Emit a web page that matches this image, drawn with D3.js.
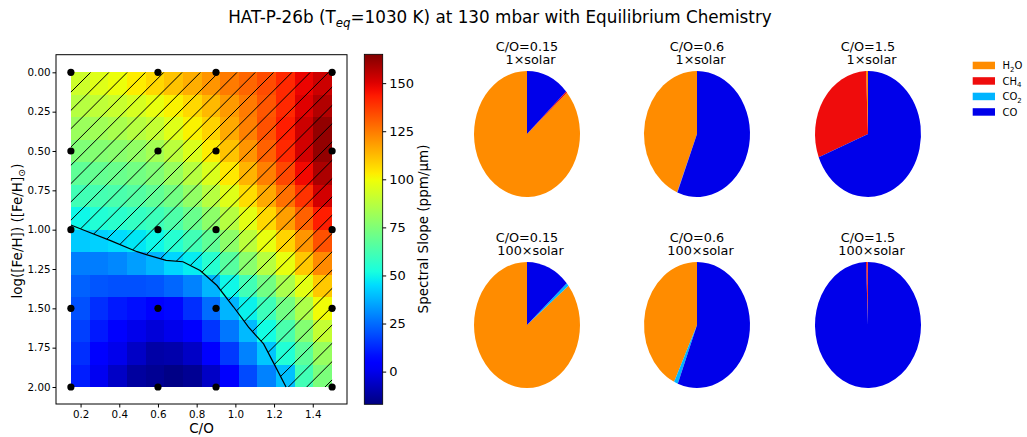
<!DOCTYPE html>
<html><head><meta charset="utf-8">
<script src="https://cdn.jsdelivr.net/npm/d3@7"></script>
<style>body{margin:0;background:#fff}svg{display:block;font-family:"DejaVu Sans",sans-serif}</style>
</head><body><svg id="c" width="1027" height="437"></svg>
<script>
// ---- data ----
const coValues = [0.15, 1.5];           // C/O extent of the grid
const fehValues = [0, 2];               // log metallicity extent
const nCols = 14, nRows = 14;
const slopeRows = [
 [92, 96, 99,103,107,111,115,120,125,129,134,141,148,153],
 [87, 89, 91, 94, 98,102,107,113,119,125,132,141,150,157],
 [81, 82, 84, 87, 90, 96,102,108,116,124,133,143,153,162],
 [75, 76, 77, 79, 83, 88, 95,103,111,120,130,141,152,162],
 [68, 69, 70, 72, 75, 80, 87, 95,104,114,124,135,147,158],
 [61, 62, 63, 65, 68, 72, 79, 87, 96,106,116,127,139,152],
 [50, 54, 56, 58, 60, 64, 70, 78, 87, 97,107,118,130,143],
 [42, 43, 45, 47, 50, 55, 61, 68, 78, 88, 98,108,120,133],
 [28, 28, 30, 34, 38, 44, 48, 55, 66, 77, 87, 98,110,122],
 [23, 21, 20, 20, 21, 24, 29, 38, 50, 61, 72, 84, 97,110],
 [20, 14, 10,  8,  4,  7, 14, 25, 38, 49, 60, 72, 85,100],
 [17, 10,  5,  0, -3,  0,  5, 15, 27, 39, 51, 63, 76, 90],
 [14,  5,  0, -6,-11,-10, -6,  3, 16, 29, 41, 54, 67, 80],
 [11,  1, -6,-12,-14,-16,-14, -6,  4, 19, 29, 40, 61, 74]
];
const contourCO  = [0.15,0.231,0.355,0.492,0.544,0.642,0.729,0.818,0.905,0.99,1.068,1.146,1.2,1.262];
const contourFeH = [0.97,1.01,1.07,1.14,1.16,1.195,1.204,1.26,1.355,1.49,1.62,1.726,1.853,2.0];
const modelCO  = [0.15, 0.6, 0.9, 1.5];
const modelFeH = [0, 0.5, 1, 1.5, 2];
const xTicks = [0.2,0.4,0.6,0.8,1.0,1.2,1.4];
const yTicks = [0,0.25,0.5,0.75,1.0,1.25,1.5,1.75,2.0];
const cbTicks = [0,25,50,75,100,125,150];
const cbRange = [-17, 165];

const species = ["H2O","CH4","CO2","CO"];
const speciesColors = ["#ff8c00","#ef0c0c","#00b4ff","#0000ea"];
const pieCO   = ["0.15","0.6","1.5","0.15","0.6","1.5"];
const pieMet  = ["1","1","1","100","100","100"];
const pieH2O = [86.4, 43.8,  0.6, 85.7, 42.9,  0.1];
const pieCH4 = [ 0.4,  0.05,30.4,  0.0,  0.0,  0.5];
const pieCO2 = [ 0.0,  0.1,  0.0,  0.8,  1.2,  0.0];
const pieCOv = [13.2, 56.0, 69.0, 13.5, 55.9, 99.4];

// ---- jet colormap ----
function interp(pts, t){
  for(let i=1;i<pts.length;i++){ if(t<=pts[i][0]){const a=pts[i-1],b=pts[i];return a[1]+(b[1]-a[1])*(t-a[0])/(b[0]-a[0]);} }
  return pts[pts.length-1][1];
}
const R=[[0,0],[0.35,0],[0.66,1],[0.89,1],[1,0.5]];
const G=[[0,0],[0.125,0],[0.375,1],[0.64,1],[0.91,0],[1,0]];
const B=[[0,0.5],[0.11,1],[0.34,1],[0.65,0],[1,0]];
function jet(t){t=Math.max(0,Math.min(1,t));return d3.rgb(255*interp(R,t),255*interp(G,t),255*interp(B,t)).toString();}
const cnorm = d3.scaleLinear().domain(cbRange).range([0,1]).clamp(true);
const color = v => jet(cnorm(v));

const svg = d3.select("#c");

// title
const title = svg.append("text").attr("x",500).attr("y",23).attr("text-anchor","middle").attr("font-size",16.8).attr("fill","#000");
title.append("tspan").text("HAT-P-26b (T");
title.append("tspan").text("eq").attr("font-style","italic").attr("font-size",11.8).attr("dy",4);
title.append("tspan").text("=1030 K) at 130 mbar with Equilibrium Chemistry").attr("dy",-4);

// ---- heatmap ----
const x = d3.scaleLinear().domain([0.073,1.577]).range([56,347]);
const y = d3.scaleLinear().domain([-0.112,2.108]).range([54.7,404]);
const g = svg.append("g");
const cw = (coValues[1]-coValues[0])/nCols, rh=(fehValues[1]-fehValues[0])/nRows;
const cells=[];
slopeRows.forEach((row,r)=>row.forEach((v,c)=>cells.push({r,c,v})));
g.selectAll("rect.cell").data(cells).join("rect").attr("class","cell")
 .attr("x",d=>x(coValues[0]+d.c*cw)).attr("y",d=>y(fehValues[0]+d.r*rh))
 .attr("width",d=>x(coValues[0]+(d.c+1)*cw)-x(coValues[0]+d.c*cw)+0.3)
 .attr("height",d=>y((d.r+1)*rh)-y(d.r*rh)+0.3)
 .attr("fill",d=>color(d.v)).attr("shape-rendering","crispEdges");

// hatched region
const poly = contourCO.map((c,i)=>[x(c),y(contourFeH[i])]);
poly.push([x(coValues[1]),y(fehValues[1])],[x(coValues[1]),y(fehValues[0])],[x(coValues[0]),y(fehValues[0])]);
svg.append("clipPath").attr("id","hclip").append("path").attr("d","M"+poly.map(p=>p.join(",")).join("L")+"Z");
const hg = g.append("g").attr("clip-path","url(#hclip)");
const sp=18.3, off=16.6, y0=y(fehValues[0]), y1=y(fehValues[1]);
const hl=[]; for(let k=0;k<60;k++){hl.push(off+k*sp);}
hg.selectAll("line").data(hl).join("line")
 .attr("x1",c=>c-y1).attr("y1",y1).attr("x2",c=>c-y0).attr("y2",y0)
 .attr("stroke","#000").attr("stroke-width",1);
g.append("path").datum(contourCO.map((c,i)=>[c,contourFeH[i]]))
 .attr("d",d3.line().x(d=>x(d[0])).y(d=>y(d[1]))).attr("fill","none").attr("stroke","#000").attr("stroke-width",1.2);

// model points
const pts=[]; modelCO.forEach(c=>modelFeH.forEach(f=>pts.push([c,f])));
g.selectAll("circle").data(pts).join("circle").attr("cx",d=>x(d[0])).attr("cy",d=>y(d[1])).attr("r",3.6).attr("fill","#000");

// axes
g.append("rect").attr("x",56).attr("y",54.7).attr("width",291).attr("height",349.3).attr("fill","none").attr("stroke","#000").attr("stroke-width",1);
const xa = svg.append("g").attr("transform","translate(0,404)").call(d3.axisBottom(x).tickValues(xTicks).tickFormat(d3.format(".1f")).tickSize(3.5).tickPadding(3));
const ya = svg.append("g").attr("transform","translate(56,0)").call(d3.axisLeft(y).tickValues(yTicks).tickFormat(d3.format(".2f")).tickSize(3.5).tickPadding(2));
[xa,ya].forEach(a=>{a.select(".domain").remove();a.selectAll("text").attr("font-size",10.3).attr("font-family","DejaVu Sans").attr("fill","#000");a.selectAll("line").attr("stroke","#000");});
svg.append("text").attr("x",x(0.825)).attr("y",433).attr("text-anchor","middle").attr("font-size",13.5).text("C/O");
const yl = svg.append("text").attr("transform","translate(22,231) rotate(-90)").attr("text-anchor","middle").attr("font-size",13.5);
yl.append("tspan").text("log([Fe/H]) ([Fe/H]");
yl.append("tspan").text("⊙").attr("font-size",9.5).attr("dy",3);
yl.append("tspan").text(")").attr("dy",-3);

// ---- colorbar ----
const cb = d3.scaleLinear().domain(cbRange).range([404.3,54.3]);
const defs = svg.append("defs");
const grad = defs.append("linearGradient").attr("id","jetg").attr("x1",0).attr("y1",1).attr("x2",0).attr("y2",0);
d3.range(0,1.0001,0.02).forEach(t=>grad.append("stop").attr("offset",t).attr("stop-color",jet(t)));
svg.append("rect").attr("x",364.3).attr("y",54.3).attr("width",18.4).attr("height",350).attr("fill","url(#jetg)").attr("stroke","#000").attr("stroke-width",0.8);
const ca = svg.append("g").attr("transform","translate(382.7,0)").call(d3.axisRight(cb).tickValues(cbTicks).tickSize(3.5).tickPadding(3));
ca.select(".domain").remove();
ca.selectAll("text").attr("font-size",13).attr("font-family","DejaVu Sans").attr("fill","#000");
svg.append("text").attr("transform","translate(428,229) rotate(-90)").attr("text-anchor","middle").attr("font-size",13.5).text("Spectral Slope (ppm/μm)");

// ---- pies ----
const pcx = [527,697,868,527,697,868], pcy=[134,134,134,325,325,325];
const rx=53, ry=63;
const pie = d3.pie().sort(null).startAngle(0).endAngle(-2*Math.PI);
const arc = d3.arc().innerRadius(0).outerRadius(rx);
pieCO.forEach((co,i)=>{
  const vals=[pieH2O[i],pieCH4[i],pieCO2[i],pieCOv[i]];
  const pg = svg.append("g").attr("transform",`translate(${pcx[i]},${pcy[i]}) scale(1,${ry/rx})`);
  pg.selectAll("path").data(pie(vals)).join("path").attr("d",arc).attr("fill",(d,j)=>speciesColors[j]);
  const ty = i<3 ? 51 : 241.5;
  const tt = svg.append("text").attr("y",ty).attr("text-anchor","middle").attr("font-size",12.8);
  tt.append("tspan").attr("x",pcx[i]).text("C/O="+co);
  tt.append("tspan").attr("x",pcx[i]+3.5).attr("dy",13).text(pieMet[i]+"×solar");
});

// legend
const lg = svg.append("g");
species.forEach((s,i)=>{
  const yy = 61.7 + i*15.5;
  lg.append("rect").attr("x",972.7).attr("y",yy).attr("width",22.3).attr("height",7.5).attr("fill",speciesColors[i]);
  const t = lg.append("text").attr("x",1002.5).attr("y",yy+7.5).attr("font-size",10).attr("fill","#000");
  const m = s.match(/^([A-Z]+)(\d?)(.*)$/);
  t.append("tspan").text(m[1]);
  if(m[2]){t.append("tspan").text(m[2]).attr("font-size",7).attr("dy",2.5);}
  if(m[3]){t.append("tspan").text(m[3]).attr("dy",-2.5);}
});
</script></body></html>
